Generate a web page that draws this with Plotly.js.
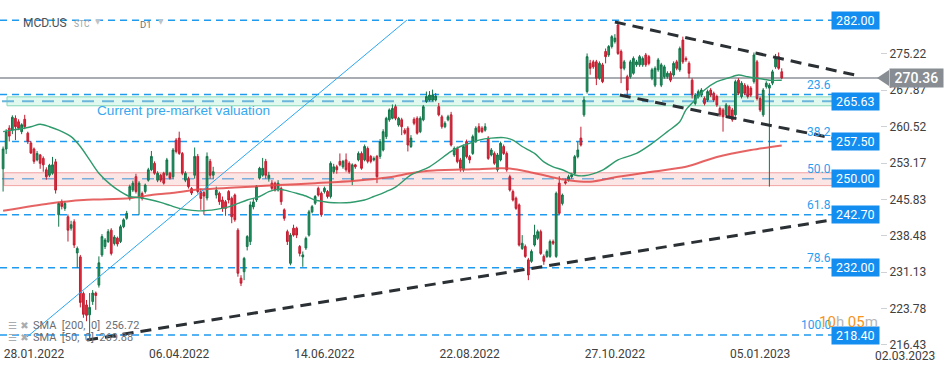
<!DOCTYPE html>
<html><head><meta charset="utf-8">
<script src="https://cdn.plot.ly/plotly-3.0.1.min.js"></script>
<style>html,body{margin:0;padding:0;background:#fff;}#chart{width:949px;height:370px;}</style>
</head><body><div id="chart"></div>
<script>
// ---- Daily candles (bar index = trading day, 0 = first visible bar) ----
const open = [
252.0,256.0,260.2,259.8,262.2,261.5,259.5,262.0,259.2,257.2,
256.0,253.8,254.8,254.1,251.8,250.7,251.1,253.4,242.7,245.4,
244.0,242.3,240.0,241.3,235.0,234.2,226.8,224.5,222.5,225.2,
226.9,228.5,234.6,236.3,237.3,239.6,236.9,238.0,237.3,240.3,
242.0,246.0,247.7,250.4,246.4,247.0,247.4,249.7,251.8,253.1,
249.7,250.7,251.1,250.8,251.1,250.4,257.8,258.2,255.1,249.7,
250.0,248.0,250.7,254.5,247.4,247.2,246.1,253.5,250.7,246.7,
247.05,245.7,245.35,247.4,246.05,246.7,239.6,229.9,231.2,236.3,
237.3,244.3,245.7,250.1,250.7,253.5,250.1,249.1,249.1,247.7,
248.05,243.7,239.3,232.9,240.0,240.0,236.3,234.2,236.0,238.6,
243.3,245.05,248.05,247.05,247.4,247.4,246.4,251.4,252.4,253.5,
252.4,253.8,253.1,249.7,252.8,253.8,255.1,253.8,256.1,254.5,
253.8,254.5,254.5,255.8,258.5,261.9,262.2,264.55,260.85,261.9,
259.8,260.2,256.5,262.0,262.2,259.5,261.9,265.6,265.9,265.9,
265.9,264.55,262.5,260.5,261.9,262.9,254.8,256.1,253.8,251.8,
257.5,254.45,255.1,257.5,260.5,260.2,259.8,258.2,254.8,255.1,
251.8,253.8,256.5,255.1,250.4,247.4,246.05,244.7,235.9,236.3,
233.6,233.3,236.6,237.95,239.3,234.3,234.3,234.3,237.3,234.3,
249.1,245.0,249.4,249.7,250.4,251.1,254.45,258.2,262.9,267.6,
273.3,273.6,273.6,270.3,273.0,275.7,275.0,276.7,277.7,281.05,
275.7,272.3,270.6,270.6,271.3,273.0,273.0,273.0,275.0,274.65,
270.3,268.9,272.0,268.9,270.6,270.6,271.3,270.95,273.6,272.0,
278.0,274.3,273.3,269.9,265.2,266.6,266.9,266.2,265.9,267.9,
267.25,266.6,264.2,263.9,262.9,264.55,263.9,262.9,269.9,266.6,
268.9,268.6,268.3,269.6,273.6,266.2,262.9,268.6,268.3,269.3,
272.6,274.65,271.6];
const high = [
256.5,260.0,260.8,262.8,262.8,262.0,261.2,262.9,259.5,257.6,
256.3,255.6,255.0,254.5,252.3,253.0,254.4,254.0,245.3,245.8,
245.5,242.8,241.5,241.8,236.3,234.6,227.2,225.5,226.9,227.5,
227.2,234.3,238.8,238.0,239.8,240.0,238.6,238.3,240.7,242.0,
243.5,248.8,249.6,251.0,249.5,247.4,249.0,252.2,255.6,253.5,
251.5,251.0,251.4,254.2,251.4,256.2,258.2,259.5,255.4,251.5,
250.4,248.3,256.3,255.0,248.0,247.6,255.3,254.0,252.4,248.4,
247.4,246.4,245.7,247.7,246.4,247.0,240.0,230.5,234.2,238.6,
245.4,246.0,248.7,252.4,254.2,254.0,251.4,249.7,249.4,249.7,
248.4,244.0,239.7,239.0,240.7,240.3,236.6,235.3,238.3,243.7,
244.7,246.7,248.4,247.4,248.4,247.7,253.5,253.0,252.8,255.1,
253.8,255.1,253.5,253.1,253.0,255.5,255.5,256.9,256.5,254.8,
254.5,254.8,258.0,260.0,262.5,264.2,265.0,265.0,262.5,262.3,
260.2,260.6,258.8,262.4,262.6,262.6,264.9,267.6,267.7,268.0,
267.3,265.3,262.9,261.6,262.9,263.5,256.5,256.5,254.2,256.9,
257.9,254.8,258.9,260.6,261.2,260.6,261.2,258.6,256.2,255.5,
255.2,257.5,256.9,255.5,250.8,247.8,246.4,245.0,238.6,236.7,
234.0,235.7,240.7,239.7,239.7,234.7,235.7,237.7,237.7,247.4,
250.5,247.0,250.0,250.8,251.2,254.8,257.5,260.5,266.6,275.3,
274.0,274.0,274.0,273.7,273.4,276.3,277.0,279.0,279.2,281.6,
276.1,274.0,271.0,274.0,274.7,274.0,275.0,274.7,275.4,275.0,
272.4,272.7,274.4,273.4,273.0,271.7,271.7,273.7,274.0,276.7,
278.7,274.7,273.7,270.3,267.3,268.0,268.3,266.6,268.0,268.3,
267.6,267.0,264.6,264.3,265.3,264.9,264.3,270.0,270.3,269.7,
269.3,269.0,268.7,275.5,274.0,266.6,268.3,269.7,269.3,272.0,
275.2,275.5,272.3];
const low = [
247.4,255.0,257.5,259.0,257.8,259.8,259.0,260.0,257.0,255.0,
253.0,253.5,252.0,251.4,249.8,250.3,250.8,247.0,240.3,243.8,
243.5,237.3,239.5,236.0,232.0,224.0,221.9,221.2,217.4,224.5,
223.5,228.0,234.2,235.8,237.0,234.5,236.5,236.3,237.0,240.0,
241.7,245.6,247.3,247.0,242.7,245.6,247.0,249.4,251.5,250.8,
249.3,249.3,248.8,250.5,249.8,250.0,255.1,254.8,250.7,249.3,
248.0,246.7,250.0,247.0,243.7,242.7,245.6,250.0,250.0,246.0,
244.7,243.3,242.5,245.0,241.0,241.3,230.2,228.3,229.5,235.5,
236.6,243.8,245.3,249.8,250.4,250.0,249.4,247.7,247.4,247.4,
244.7,241.5,236.6,232.5,238.3,238.0,234.3,232.2,235.6,238.3,
243.0,244.7,246.4,242.3,247.0,246.0,246.0,251.0,251.0,252.5,
252.0,251.4,251.0,248.7,252.0,253.5,251.8,253.5,253.1,253.1,
253.5,249.1,254.0,255.5,258.0,261.5,262.0,261.8,260.5,258.8,
258.9,255.5,256.2,260.8,258.9,259.2,261.6,265.3,265.6,265.6,
265.6,262.6,260.1,260.2,261.6,256.5,254.4,253.1,251.4,251.4,
254.1,253.1,254.8,257.2,259.2,259.2,259.5,253.8,254.5,252.8,
251.4,253.5,254.8,251.4,247.4,245.4,243.7,236.3,235.6,234.0,
229.5,233.0,236.3,237.6,234.6,232.6,234.0,234.0,236.6,234.0,
242.6,244.6,248.8,249.4,250.0,250.8,254.1,256.5,262.5,267.2,
271.0,272.2,268.9,270.0,269.3,273.3,274.6,276.3,277.3,275.0,
269.3,271.9,266.6,270.2,271.0,272.6,272.6,272.6,272.6,272.9,
269.9,268.5,271.6,268.5,270.2,270.2,269.5,270.6,271.9,271.6,
273.2,273.6,270.3,266.2,264.8,266.2,266.5,264.8,265.5,266.5,
265.5,264.5,262.5,259.5,262.5,262.1,261.5,262.5,266.9,266.2,
266.9,266.2,266.5,269.2,265.8,263.5,262.5,268.2,248.4,268.9,
272.2,272.0,270.1];
const close = [
256.0,259.5,258.6,262.4,260.5,260.2,260.9,260.5,257.5,255.2,
253.5,255.1,253.1,252.8,250.4,252.7,252.8,247.7,245.0,244.4,
245.0,239.6,240.7,236.6,235.9,225.0,222.6,222.4,224.0,226.9,
226.4,233.0,238.3,237.6,239.3,234.9,238.2,236.8,240.3,241.7,
243.0,248.4,249.1,247.4,249.1,246.0,248.7,251.8,254.5,251.1,
251.1,249.7,249.1,253.8,250.1,255.8,255.5,255.1,251.1,251.1,
248.4,247.1,254.5,247.4,246.0,246.5,254.5,250.7,251.4,247.7,
245.35,244.0,244.0,245.7,242.3,241.7,230.9,228.9,233.9,238.3,
244.7,245.3,248.4,252.1,252.1,250.7,250.7,248.05,247.7,249.1,
245.35,242.0,237.3,238.6,238.6,238.6,234.9,234.6,237.95,243.3,
244.35,246.4,246.7,242.7,248.05,246.4,253.1,252.4,251.8,252.8,
253.5,251.8,251.4,252.8,252.4,255.1,252.1,256.5,253.5,253.5,
254.1,250.4,257.5,259.5,262.2,263.9,264.2,262.2,262.2,260.5,
259.2,256.8,258.2,261.2,259.2,262.2,264.55,266.6,266.9,266.9,
266.7,262.9,260.5,261.2,262.5,256.8,256.1,253.45,252.1,256.5,
254.45,253.8,258.5,260.2,259.5,259.5,260.5,254.1,255.8,253.1,
254.8,257.15,255.1,251.8,247.7,245.7,244.0,236.6,236.95,234.3,
230.55,235.3,238.6,239.3,234.9,233.3,235.3,237.3,236.95,247.05,
243.0,246.7,249.1,250.4,250.8,254.45,255.8,256.8,265.9,274.65,
272.3,272.6,270.3,273.3,269.6,274.65,276.7,278.7,278.4,275.3,
272.3,273.6,267.9,273.6,274.3,273.6,274.65,274.3,273.0,273.3,
272.0,272.3,274.0,273.0,272.6,271.3,269.9,273.3,272.3,276.3,
273.6,274.0,271.3,266.9,266.9,267.6,267.9,265.2,267.6,266.9,
265.9,264.9,262.9,262.5,264.9,262.5,261.9,269.6,267.25,269.3,
267.25,266.6,266.9,275.0,266.2,263.9,267.9,269.3,268.9,271.6,
274.3,272.3,270.36];

// ---- Moving averages (read at sample bars) ----
const sma50Bar = [0,3,9,12,15,18,22,25,28,31,35,38,41,44,48,51,54,57,60,64,69,73,76,79,83,86,89,91,95,98,101,104,107,111,114,117,120,124,127,132,138,145,148,151,154,158,162,165,168,172,175,178,181,185,188,194,199,205,210,215,219,221,224,227,231,235,238,241,244,248,252];
const sma50 = [259.5,259.8,260.5,261.0,260.5,259.8,258.5,256.5,253.8,251.1,248.7,247.4,246.4,246.2,245.7,245.2,244.6,244.0,243.7,243.5,243.8,244.3,245.0,245.7,246.4,247.4,247.85,247.7,247.05,246.5,245.7,245.35,245.15,245.15,245.35,245.7,246.4,247.4,248.3,250.75,252.4,255.5,256.5,257.15,257.8,258.2,258.3,257.8,256.5,255.1,253.4,252.4,251.8,250.75,250.6,251.75,253.8,255.1,257.1,259.5,261.5,263.9,265.9,267.9,269.6,270.4,270.95,270.6,270.3,269.9,269.88];
const sma200Bar = [0,15,26,31,41,48,54,64,75,89,101,114,125,132,138,152,161,164,170,177,183,190,199,210,221,231,242,252];
const sma200 = [243.5,245.0,245.7,245.8,246.05,246.7,247.05,247.85,248.2,248.7,249.1,249.6,250.3,251.1,251.6,251.9,252.1,252.05,251.4,250.4,249.7,249.4,250.4,251.4,252.4,254.4,255.8,256.72];

// ---- Drawn trend lines (bar, price endpoints) ----
const resistBar = [198, 275.7], resistPrice = [281.66, 270.95];
const wedgeBar = [199.6, 275.7], wedgePrice = [266.9, 257.3];
const supportBar = [27.2, 270.2], supportPrice = [217.4, 241.86];
const rayBar = [7.7, 130.7], rayPrice = [218.0, 282.06];

// ---- Axis ticks / levels ----
const tickBar = [10, 57, 104, 151, 198, 245, 292];
const tickLabels = ['28.01.2022','06.04.2022','14.06.2022','22.08.2022','27.10.2022','05.01.2023','02.03.2023'];
const priceTicks = [216.43, 223.78, 231.13, 238.48, 245.83, 253.17, 260.52, 267.87, 275.22];
const boxLevels = [282.00, 265.63, 257.50, 250.00, 242.70, 232.00, 218.40];
const blueLines = [282.00, 266.99, 257.50, 242.70, 232.00, 218.40];
const fibNames = ['23.6','38.2','50.0','61.8','78.6','100.0'];
const fibPrices = [266.99, 257.50, 250.00, 242.70, 232.00, 218.40];
const premarket = 265.63, pinkLevel = 250.00, lastPrice = 270.36;
const smaLegend = ['SMA  [200,  0]  256.72', 'SMA  [50,  0]  269.88'];

const xRange = [-1, 283.8], yRange = [216.4, 286.1];
const bars = open.map((_, i) => i);
const W = 949, H = 370, mR = 69, mB = 25;
const pw = W - mR, ph = H - mB;
const px = p => p / pw;            // pixel -> paper x
const py = p => 1 - p / ph;        // pixel -> paper y

const traces = [
  {type:'candlestick', x:bars, open, high, low, close, hoverinfo:'skip',
   increasing:{line:{color:'#127449', width:1}, fillcolor:'#1f9461'},
   decreasing:{line:{color:'#c21d30', width:1}, fillcolor:'#e42b3d'},
   whiskerwidth:0},
  {type:'scatter', mode:'lines', x:sma200Bar, y:sma200, line:{color:'rgba(226,72,72,0.85)', width:2, shape:'spline', smoothing:0.8}, hoverinfo:'skip'},
  {type:'scatter', mode:'lines', x:sma50Bar, y:sma50, line:{color:'#2f9a6c', width:1.4, shape:'spline', smoothing:0.8}, hoverinfo:'skip'},
  {type:'scatter', mode:'lines', x:rayBar, y:rayPrice, line:{color:'#2ba6f0', width:1}, hoverinfo:'skip'},
  {type:'scatter', mode:'lines', x:resistBar, y:resistPrice, line:{color:'#2b3035', width:3, dash:'11px,7px'}, hoverinfo:'skip'},
  {type:'scatter', mode:'lines', x:wedgeBar, y:wedgePrice, line:{color:'#2b3035', width:3, dash:'11px,7px'}, hoverinfo:'skip'},
  {type:'scatter', mode:'lines', x:supportBar, y:supportPrice, line:{color:'#2b3035', width:3, dash:'11px,7px'}, hoverinfo:'skip'}
];

const lineEnd = px(838);
const shapes = [];
shapes.push({type:'rect', layer:'below', xref:'paper', yref:'y', x0:px(7), x1:lineEnd, y0:premarket-0.9, y1:premarket+0.9,
  fillcolor:'rgba(120,225,180,0.22)', line:{color:'#86d9b8', width:1}});
shapes.push({type:'rect', layer:'below', xref:'paper', yref:'y', x0:px(4), x1:lineEnd, y0:pinkLevel-1.4, y1:pinkLevel+1.2,
  fillcolor:'rgba(245,160,160,0.28)', line:{color:'#f2a3a3', width:1}});
blueLines.forEach(p => shapes.push({type:'line', layer:'below', xref:'paper', yref:'y', x0:0, x1:lineEnd, y0:p, y1:p,
  line:{color:'#1e9bef', width:1.5, dash:'7px,5px'}}));
shapes.push({type:'line', layer:'below', xref:'paper', yref:'y', x0:px(2), x1:lineEnd, y0:premarket, y1:premarket,
  line:{color:'#6cb6dc', width:2, dash:'12px,8px'}});
shapes.push({type:'line', layer:'below', xref:'paper', yref:'y', x0:px(2), x1:lineEnd, y0:pinkLevel, y1:pinkLevel,
  line:{color:'#7aaedb', width:1.5, dash:'12px,8px'}});
shapes.push({type:'line', layer:'below', xref:'paper', yref:'y', x0:0, x1:1, y0:lastPrice, y1:lastPrice,
  line:{color:'#8c9298', width:1.5}});
const ah = 8 / (ph / (yRange[1] - yRange[0]));
shapes.push({type:'path', xref:'paper', yref:'y', layer:'above',
  path:`M${px(877)},${lastPrice} L${px(889)},${lastPrice+ah} L${px(889)},${lastPrice-ah} Z`,
  fillcolor:'#878d92', line:{width:0}});

const ann = [];
const nb = '\u00a0';
boxLevels.forEach(p => ann.push({xref:'paper', x:1, xanchor:'right', yref:'y', y:p, yanchor:'middle',
  text:nb+p.toFixed(2)+nb, showarrow:false, bgcolor:'#138df0', borderpad:1,
  font:{family:'Roboto', size:12.5, color:'#ffffff'}}));
ann.push({xref:'paper', x:px(889), xanchor:'left', yref:'y', y:lastPrice, yanchor:'middle',
  text:nb+lastPrice.toFixed(2)+nb, showarrow:false, bgcolor:'#878d92', borderpad:1,
  font:{family:'Roboto', size:14, color:'#ffffff', weight:500}});
fibNames.forEach((f, k) => ann.push({xref:'paper', x:px(833), xanchor:'right', yref:'y', y:fibPrices[k], yanchor:'bottom', yshift:1,
  text:f, showarrow:false, font:{family:'Roboto', size:12, color:'#2a9df0'}}));
ann.push({xref:'paper', x:px(95), xanchor:'left', yref:'y', y:premarket-1.9, yanchor:'middle',
  text:'Current pre-market valuation', showarrow:false, font:{family:'Liberation Sans', size:13.6, color:'#38a8ef'}});
// header
ann.push({xref:'paper', x:px(21), xanchor:'left', yref:'paper', y:py(23), yanchor:'middle', text:'MCD.US', showarrow:false, font:{family:'Roboto', size:12, color:'#4d5258'}});
ann.push({xref:'paper', x:px(72), xanchor:'left', yref:'paper', y:py(24), yanchor:'middle', text:'STC', showarrow:false, font:{family:'Roboto', size:8.5, color:'#a0a4a8'}});
ann.push({xref:'paper', x:px(93), xanchor:'left', yref:'paper', y:py(22), yanchor:'middle', text:'▼', showarrow:false, font:{family:'DejaVu Sans', size:7, color:'#c0c4c8'}});
ann.push({xref:'paper', x:px(138), xanchor:'left', yref:'paper', y:py(24), yanchor:'middle', text:'D1', showarrow:false, font:{family:'Roboto', size:9.5, color:'#70757a'}});
ann.push({xref:'paper', x:px(156), xanchor:'left', yref:'paper', y:py(22), yanchor:'middle', text:'▼', showarrow:false, font:{family:'DejaVu Sans', size:7, color:'#c0c4c8'}});
// SMA legend
[325, 337].forEach((yy, k) => {
  ann.push({xref:'paper', x:px(6), xanchor:'left', yref:'paper', y:py(yy), yanchor:'middle', text:'☰ ✖', showarrow:false, font:{family:'DejaVu Sans', size:10, color:'#a9adb1'}});
  ann.push({xref:'paper', x:px(31), xanchor:'left', yref:'paper', y:py(yy), yanchor:'middle', text:smaLegend[k], showarrow:false, font:{family:'Roboto', size:11, color:'#6a6e73'}});
});
// countdown
ann.push({xref:'paper', x:1, xanchor:'right', yref:'paper', y:py(322), yanchor:'middle', showarrow:false,
  text:'<span style="color:#f7931e">10</span><span style="color:#b4b8bc">h </span><span style="color:#f7931e">05</span><span style="color:#b4b8bc">m</span>',
  font:{family:'Roboto', size:15}});
// future date tick label (outside the visible bar range)
ann.push({xref:'paper', x:(tickBar[6]-xRange[0])/(xRange[1]-xRange[0]), xanchor:'center', yref:'paper', y:0, yanchor:'top', yshift:-2,
  text:tickLabels[6], showarrow:false, font:{family:'Roboto', size:12, color:'#404040'}});

const layout = {
  width:W, height:H, margin:{l:0, r:mR, t:0, b:mB}, paper_bgcolor:'#ffffff', plot_bgcolor:'#ffffff',
  showlegend:false, boxgap:0.2,
  xaxis:{range:xRange, rangeslider:{visible:false}, tickmode:'array', tickvals:tickBar.slice(0,6), ticktext:tickLabels.slice(0,6),
    showgrid:false, zeroline:false, showline:false, ticks:'', tickfont:{family:'Roboto', size:12, color:'#404040'}, fixedrange:true},
  yaxis:{range:yRange, side:'right', tickmode:'array', tickvals:priceTicks, ticktext:priceTicks.map(v=>v.toFixed(2)),
    showgrid:false, zeroline:false, showline:false, ticks:'outside', ticklen:6, tickcolor:'#cfd2d5', tickwidth:1,
    tickfont:{family:'Roboto', size:12, color:'#404040'}, fixedrange:true},
  shapes, annotations:ann
};
Plotly.newPlot('chart', traces, layout, {staticPlot:true, displayModeBar:false});
</script></body></html>
